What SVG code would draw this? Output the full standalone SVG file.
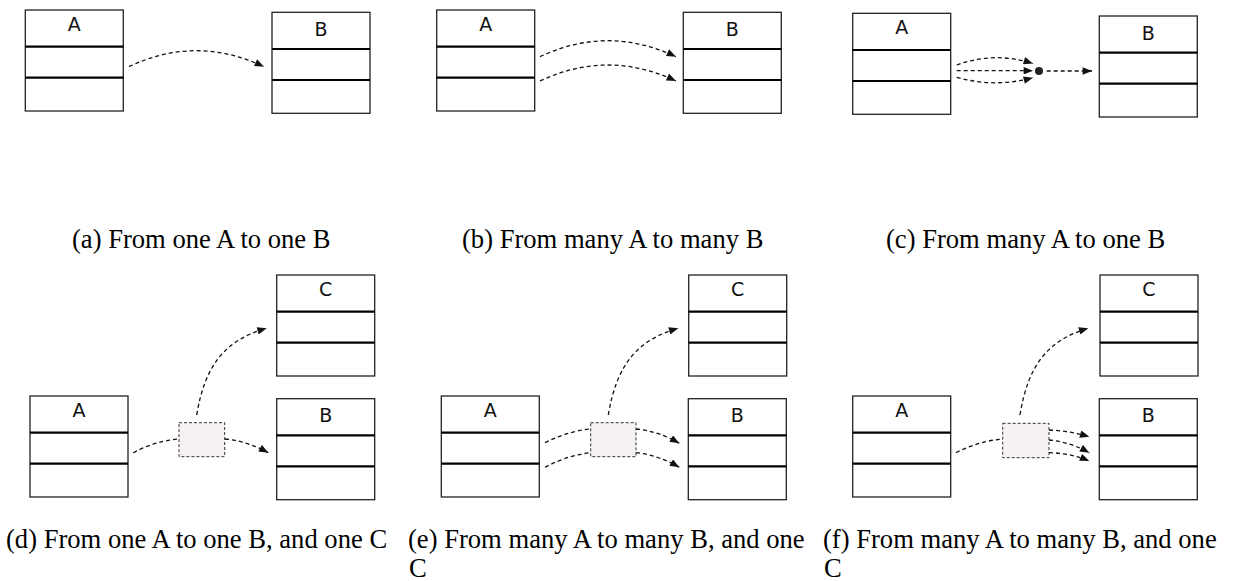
<svg xmlns="http://www.w3.org/2000/svg" xmlns:xlink="http://www.w3.org/1999/xlink" width="1237" height="581" viewBox="0 0 1237 581">
<style>
.frame-rect{fill:#fff;stroke:#222;stroke-width:1.3}
.div{stroke:#000;stroke-width:2.2}
.lbl{font-family:"DejaVu Sans",sans-serif;font-size:19px;text-anchor:middle;fill:#111}
.conn{fill:none;stroke:#111;stroke-width:1.3;stroke-dasharray:4 3}
.mid{fill:#f6f2f4;stroke:#333;stroke-width:1;stroke-dasharray:3 2}
.cap{font-family:"Liberation Serif","Times New Roman",serif;font-size:26.6px;fill:#000}
</style>
<defs>
<marker id="ah" viewBox="0 0 10 8" refX="10" refY="4" markerWidth="10" markerHeight="7.5" markerUnits="userSpaceOnUse" orient="auto">
<path d="M0,0 L10,4 L0,8 z" fill="#111"/>
</marker>
<g id="frame">
<rect class="frame-rect" x="0" y="0" width="98" height="101"/>
<line class="div" x1="0" y1="36.7" x2="98" y2="36.7"/>
<line class="div" x1="0" y1="67.7" x2="98" y2="67.7"/>
</g>
</defs>

<!-- panel a -->
<g id="a-A"><use xlink:href="#frame" x="25.3" y="10"/><text class="lbl" x="74.3" y="31">A</text></g>
<g id="a-B"><use xlink:href="#frame" x="272" y="12.3"/><text class="lbl" x="321" y="35.8">B</text></g>
<!-- panel b -->
<g id="b-A"><use xlink:href="#frame" x="436.7" y="10"/><text class="lbl" x="485.7" y="31">A</text></g>
<g id="b-B"><use xlink:href="#frame" x="683.3" y="12.3"/><text class="lbl" x="732.3" y="35.8">B</text></g>
<!-- panel c -->
<g id="c-A"><use xlink:href="#frame" x="852.7" y="13.3"/><text class="lbl" x="901.7" y="34.3">A</text></g>
<g id="c-B"><use xlink:href="#frame" x="1099.3" y="16"/><text class="lbl" x="1148.3" y="39.5">B</text></g>
<g id="c-dot"><circle cx="1039" cy="71" r="4" fill="#222"/></g>
<!-- panel d -->
<g id="d-A"><use xlink:href="#frame" x="30" y="396"/><text class="lbl" x="79" y="417">A</text></g>
<g id="d-C"><use xlink:href="#frame" x="276.7" y="275"/><text class="lbl" x="325.7" y="296">C</text></g>
<g id="d-B"><use xlink:href="#frame" x="276.7" y="398.7"/><text class="lbl" x="325.7" y="422.2">B</text></g>
<g id="d-M"><rect class="mid" x="179" y="422.7" width="45.7" height="34"/></g>
<!-- panel e -->
<g id="e-A"><use xlink:href="#frame" x="441.3" y="396"/><text class="lbl" x="490.3" y="417">A</text></g>
<g id="e-C"><use xlink:href="#frame" x="688.7" y="275"/><text class="lbl" x="737.7" y="296">C</text></g>
<g id="e-B"><use xlink:href="#frame" x="688.3" y="398.7"/><text class="lbl" x="737.3" y="422.2">B</text></g>
<g id="e-M"><rect class="mid" x="590.7" y="422.7" width="45.3" height="34"/></g>
<!-- panel f -->
<g id="f-A"><use xlink:href="#frame" x="852.7" y="396"/><text class="lbl" x="901.7" y="417">A</text></g>
<g id="f-C"><use xlink:href="#frame" x="1100" y="275"/><text class="lbl" x="1149" y="296">C</text></g>
<g id="f-B"><use xlink:href="#frame" x="1099.3" y="398.7"/><text class="lbl" x="1148.3" y="422.2">B</text></g>
<g id="f-M"><rect class="mid" x="1002.7" y="423.3" width="46.3" height="34.4"/></g>

<g id="connectors">
<path class="conn" marker-end="url(#ah)" d="M129,66.7 Q196,34.7 264,66.7"/>
<path class="conn" marker-end="url(#ah)" d="M540,56.7 Q608,24.7 676,56.7"/>
<path class="conn" marker-end="url(#ah)" d="M540,81 Q608,49 676,81"/>
<path class="conn" marker-end="url(#ah)" d="M956.7,65 Q994,51.2 1033,63.5"/>
<path class="conn" marker-end="url(#ah)" d="M956.7,70.7 L1033,70.7"/>
<path class="conn" marker-end="url(#ah)" d="M956.7,77.3 Q994,88 1033,77.8"/>
<path class="conn" marker-end="url(#ah)" d="M1046.7,71 L1092,71"/>

<path class="conn" d="M133.3,452.7 Q155,441 179,439"/>
<path class="conn" marker-end="url(#ah)" d="M225,439 Q247,441 268.3,452.7"/>
<path class="conn" marker-end="url(#ah)" d="M196.7,415 C205,365 225,340 266.7,328.3"/>

<path class="conn" d="M545,442.7 Q568,431 590.7,429"/>
<path class="conn" d="M545,467.3 Q568,455 590.7,452.7"/>
<path class="conn" marker-end="url(#ah)" d="M636,429 Q658,431 679.3,443.3"/>
<path class="conn" marker-end="url(#ah)" d="M636,452.7 Q658,455 679.3,467.3"/>
<path class="conn" marker-end="url(#ah)" d="M608.3,415 C616.7,365 636.7,340 678.3,328.3"/>

<path class="conn" d="M956,452.7 Q979,441 1002.7,439"/>
<path class="conn" marker-end="url(#ah)" d="M1049,430 Q1070,431 1089.3,436.7"/>
<path class="conn" marker-end="url(#ah)" d="M1049,440 Q1070,442 1089.3,452.7"/>
<path class="conn" marker-end="url(#ah)" d="M1049,452.7 Q1070,453 1089.3,461"/>
<path class="conn" marker-end="url(#ah)" d="M1020,415 C1028,365 1048,340 1088.3,328.3"/>
</g>

<g id="captions">
<text class="cap" x="72" y="248">(a) From one A to one B</text>
<text class="cap" x="462" y="248">(b) From many A to many B</text>
<text class="cap" x="886" y="248">(c) From many A to one B</text>
<text class="cap" x="6" y="548">(d) From one A to one B, and one C</text>
<text class="cap" x="408" y="548">(e) From many A to many B, and one</text>
<text class="cap" x="409" y="577">C</text>
<text class="cap" x="823" y="548">(f) From many A to many B, and one</text>
<text class="cap" x="824" y="577">C</text>
</g>
</svg>
